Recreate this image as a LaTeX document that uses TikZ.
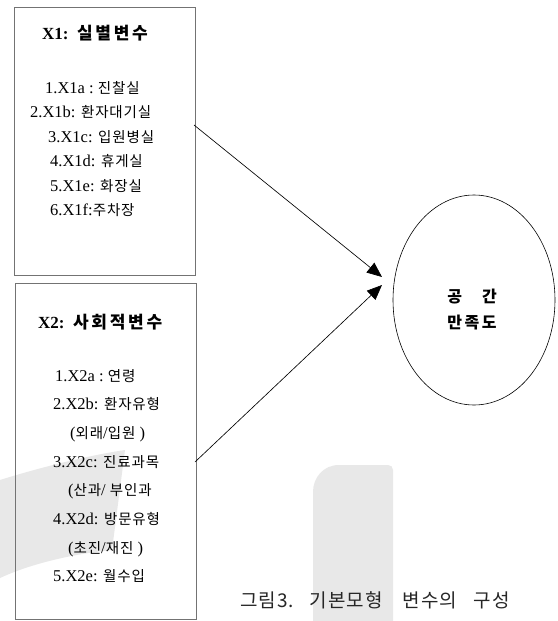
\documentclass[tikz,border=0pt]{standalone}
\usepackage{fontspec}
\setmainfont{Liberation Serif}
\newfontfamily\kofont{Noto Sans CJK KR}[LetterSpace=6]
\newfontfamily\kowide{Noto Sans CJK KR}[LetterSpace=16]
\newfontfamily\kocap{Noto Sans CJK KR}[LetterSpace=5]
\newcommand{\kor}[1]{{\fontsize{14.5}{18}\kofont #1}}
\newcommand{\korw}[1]{{\kowide #1}}
\usetikzlibrary{arrows.meta,shapes.geometric}
\begin{document}
\begin{tikzpicture}[x=1pt,y=-1pt,
  box/.style={draw=black!55, line width=0.9pt, rectangle, inner sep=0pt, anchor=north west},
  item/.style={anchor=base west, inner sep=0pt, font=\fontsize{16.5}{19}\selectfont},
  ttl/.style={anchor=base west, inner sep=0pt, font=\fontsize{17}{19}\selectfont\bfseries},
  conn/.style={line width=0.65pt, -{Triangle[length=15pt,width=12.5pt]}},
  wm/.style={fill=black!9, draw=none},
  oval/.style={ellipse, draw, line width=0.6pt, minimum width=162pt, minimum height=210pt, inner sep=0pt},
  otext/.style={inner sep=0pt, font=\fontsize{16}{18}\selectfont\bfseries},
  captext/.style={anchor=base west, inner sep=0pt, text=black!85, font=\fontsize{19}{21}\selectfont\kocap}]
\useasboundingbox (0,0) rectangle (557,621);
\fill[white] (0,0) rectangle (557,621);
% watermark shapes
\path[wm] (313,621) -- (313,492) .. controls (313,478) and (323,465) .. (339,465) -- (388,465) .. controls (391,465) and (393,467) .. (393,470) -- (393,621) -- cycle;
\path[wm] (0,480) .. controls (35,469) and (85,456) .. (125,450) -- (112,550) .. controls (72,554) and (30,564) .. (0,578) -- cycle;
% boxes
\node[box, minimum width=181pt, minimum height=268pt] (x1) at (14,7) {};
\node[box, minimum width=181pt, minimum height=336pt] (x2) at (15,283) {};
% box 1 text
\node[ttl] (t1) at (42,39) {X1:\ \ \korw{실별변수}};
\node[item] (a1) at (45,93) {1.X1a :\ \kor{진찰실}};
\node[item] (b1) at (30,117.5) {2.X1b: \kor{환자대기실}};
\node[item] (c1) at (48,142) {3.X1c: \kor{입원병실}};
\node[item] (d1) at (50,166.5) {4.X1d: \kor{휴게실}};
\node[item] (e1) at (50,191) {5.X1e: \kor{화장실}};
\node[item] (f1) at (50,215.5) {6.X1f:\kor{주차장}};
% box 2 text
\node[ttl] (t2) at (38,328) {X2:\ \ \korw{사회적변수}};
\node[item] (a2) at (55,381) {1.X2a :\ \kor{연령}};
\node[item] (b2) at (53,409.7) {2.X2b: \kor{환자유형}};
\node[item] (b2p) at (70,438.4) {(\kor{외래}/\kor{입원}\ )};
\node[item] (c2) at (53,467.1) {3.X2c: \kor{진료과목}};
\node[item] (c2p) at (68,495.8) {(\kor{산과}/\ \kor{부인과}};
\node[item] (d2) at (53,524.5) {4.X2d: \kor{방문유형}};
\node[item] (d2p) at (68,553.2) {(\kor{초진}/\kor{재진}\ )};
\node[item] (e2) at (53,581.9) {5.X2e: \kor{월수입}};
% ellipse
\node[oval] (sat) at (474,300) {};
\node[otext] (s1) at (472,297) {\korw{공}\hspace{20pt}\korw{간}};
\node[otext] (s2) at (472,323) {\korw{만족도}};
% connectors
\coordinate (p1) at (194,125);
\coordinate (p2) at (195,462);
\coordinate (q1) at (382,277);
\coordinate (q2) at (382,285);
\draw[conn] (p1) -- (q1);
\draw[conn] (p2) -- (q2);
% caption
\node[captext] (capt) at (240,607) {그림3.\hspace{16pt}기본모형\hspace{20pt}변수의\hspace{17pt}구성};
\end{tikzpicture}
\end{document}
